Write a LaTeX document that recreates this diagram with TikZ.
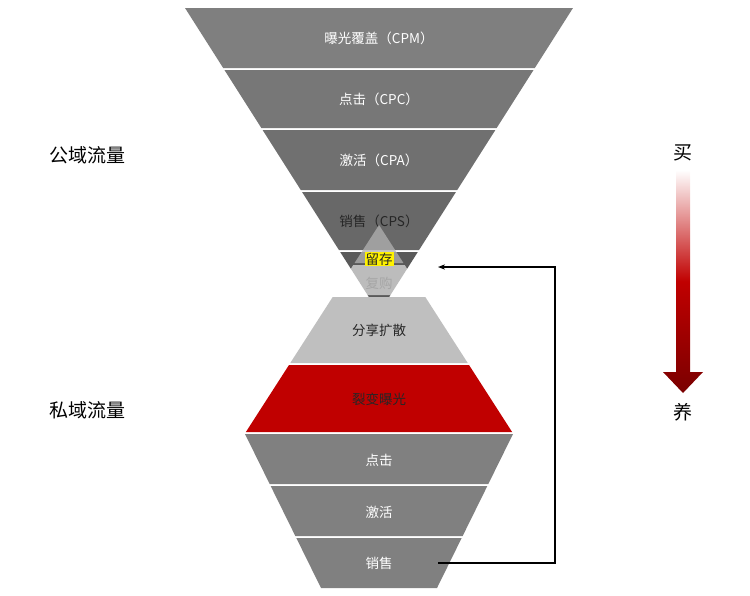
\documentclass[tikz,border=0pt]{standalone}
\usepackage{fontspec}
\setmainfont{Noto Sans CJK SC}
\usetikzlibrary{arrows.meta}
\definecolor{r1}{HTML}{C00000}
\definecolor{r2}{HTML}{7A0000}
\begin{document}
\begin{tikzpicture}[x=1pt,y=-1pt,
  lab/.style={font=\fontsize{13.5}{15}\selectfont,text=white},
  labd/.style={font=\fontsize{13.5}{15}\selectfont,text=black!85},
  side/.style={font=\fontsize{19}{22}\selectfont}]
\useasboundingbox (0,0) rectangle (750,595);
\def\hw#1{((313-#1)*0.636)}
\foreach \a/\b/\c in {8/68/7F7F7F,70/128/777777,130/190/707070,192/250/686868}{
  \definecolor{tmp}{HTML}{\c}
  \fill[tmp] ({379-\hw{\a}},\a) -- ({379+\hw{\a}},\a) -- ({379+\hw{\b}},\b) -- ({379-\hw{\b}},\b) -- cycle;
}
\fill[black!65] ({379-\hw{252}},252) -- ({379+\hw{252}},252) -- (379,313) -- cycle;
\node[lab] (t1) at (379,38) {曝光覆盖（CPM）};
\node[lab] (t2) at (379,99) {点击（CPC）};
\node[lab] (t3) at (379,160) {激活（CPA）};
\node[labd] (t4) at (379,221) {销售（CPS）};
\def\pw#1{((#1-225)*0.643)}
\fill[black!30,opacity=0.75] (379,225) -- ({379+\pw{263}},263) -- ({379-\pw{263}},263) -- cycle;
\fill[white,opacity=0.6] ({379-\pw{265}},265) -- ({379+\pw{265}},265) -- ({379+\pw{295}},295) -- ({379-\pw{295}},295) -- cycle;
\fill[black!25] ({379-\pw{297}},297) -- ({379+\pw{297}},297) -- ({379+\pw{363}},363) -- ({379-\pw{363}},363) -- cycle;
\fill[r1] ({379-\pw{365}},365) -- ({379+\pw{365}},365) -- ({379+\pw{432}},432) -- ({379-\pw{432}},432) -- cycle;
\node[labd,fill=yellow,inner sep=1pt] (p1) at (379,259) {留存};
\node[labd,text=black!35] (p2) at (379,283) {复购};
\node[labd] (p3) at (379,330) {分享扩散};
\node[labd] (p4) at (379,399) {裂变曝光};
\def\bw#1{(134-(#1-434)*0.4935)}
\foreach \a/\b in {434/484,486/536,538/588}{
  \fill[black!50] ({379-\bw{\a}},\a) -- ({379+\bw{\a}},\a) -- ({379+\bw{\b}},\b) -- ({379-\bw{\b}},\b) -- cycle;
}
\node[lab] (b1) at (379,460) {点击};
\node[lab] (b2) at (379,512) {激活};
\node[lab] (b3) at (379,563) {销售};
\coordinate (s) at (438,563);
\coordinate (e) at (438,267);
\draw[line width=1.2pt,-{Stealth[length=7pt]}] (s) -- (555,563) -- (555,267) -- (e);
\node[side] (l1) at (87,155) {公域流量};
\node[side] (l2) at (87,410) {私域流量};
\node[side] (m) at (683,153) {买};
\node[side] (y) at (683,412) {养};
\shade[top color=white,bottom color=r2,middle color=r1]
  (676,170) -- (690,170) -- (690,372) -- (703,372) -- (683,393) -- (663,372) -- (676,372) -- cycle;
\end{tikzpicture}
\end{document}
